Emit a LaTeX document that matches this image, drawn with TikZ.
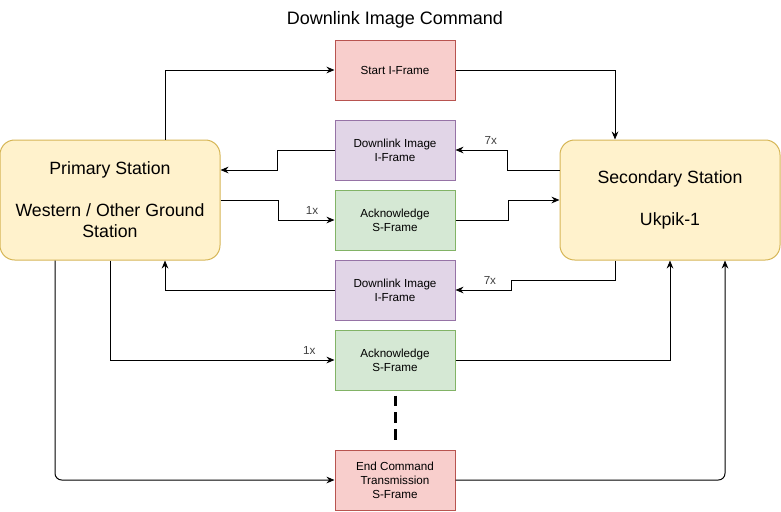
\documentclass[tikz,border=0pt]{standalone}
\usepackage{fontspec}
\setmainfont{Liberation Sans}
\usepackage{xcolor}
\usepackage{tikz}
\usetikzlibrary{arrows.meta}
\usetikzlibrary{calc}
\usetikzlibrary{positioning}

\definecolor{redfill}{HTML}{F8CECC}
\definecolor{redline}{HTML}{B85450}
\definecolor{purplefill}{HTML}{E1D5E7}
\definecolor{purpleline}{HTML}{9673A6}
\definecolor{greenfill}{HTML}{D5E8D4}
\definecolor{greenline}{HTML}{82B366}
\definecolor{yellowfill}{HTML}{FFF2CC}
\definecolor{yellowline}{HTML}{D6B656}

\begin{document}
\begin{tikzpicture}[x=0.75pt, y=-0.75pt,
    station/.style={draw=yellowline, fill=yellowfill, rounded corners=11pt,
      minimum width=165pt, minimum height=90pt, align=center,
      font=\fontsize{13.3}{15.75}\selectfont, line width=0.75pt},
    frame/.style={draw, minimum width=90pt, minimum height=45pt, align=center,
      font=\fontsize{8.75}{10.5}\selectfont, line width=0.75pt},
    iframe/.style={frame, draw=purpleline, fill=purplefill},
    sframe/.style={frame, draw=greenline, fill=greenfill},
    cmdframe/.style={frame, draw=redline, fill=redfill},
    arr/.style={-{Stealth[length=6pt, width=5pt]}, line width=0.75pt},
    lbl/.style={font=\fontsize{8.75}{10}\selectfont, text=black!75}]

    \useasboundingbox (0,0) rectangle (781,511);

    \node[font=\fontsize{13.5}{15}\selectfont] (title) at (395,20) {Downlink Image Command};

    \node[station] (prim) at (110,200)
    {Primary Station\\[15.75pt]Western / Other Ground\\Station};
    \node[station] (sec) at (670,200)
    {Secondary Station\\[15.75pt]Ukpik-1};

    \node[cmdframe] (start) at (395,70) {Start I-Frame};
    \node[iframe] (dlone) at (395,150) {Downlink Image\\I-Frame};
    \node[sframe] (ackone) at (395,220) {Acknowledge\\S-Frame};
    \node[iframe] (dltwo) at (395,290) {Downlink Image\\I-Frame};
    \node[sframe] (acktwo) at (395,360) {Acknowledge\\S-Frame};
    \node[cmdframe] (endf) at (395,480) {End Command\\Transmission\\S-Frame};

    \draw [arr] ($(prim.north)+(55,0)$) |- (start);
    \draw [arr] (start) -| ($(sec.north)+(-55,0)$);

    \draw [arr] ($(sec.west)+(0,-30)$) -- ++(-52,0) |- (dlone)
    node[lbl, pos=0.66, above=0.5pt] {7x};
    \draw [arr] (dlone.west) -- ++(-57,0) |- ($(prim.east)+(0,-30)$);

    \draw [arr] (prim.east) -- ++(58,0) |- (ackone)
    node[lbl, pos=0.8, above=0.5pt] {1x};
    \draw [arr] (ackone.east) -- ++(53,0) |- (sec.west);

    \draw [arr] ($(sec.south)+(-55,0)$) -- ++(0,20) -- ++(-104,0) |- (dltwo)
    node[lbl, pos=0.69, above=0.5pt] {7x};
    \draw [arr] (dltwo) -| ($(prim.south)+(55,0)$);

    \draw [arr] (prim.south) |- (acktwo)
    node[lbl, pos=0.944, above=0.5pt] {1x};
    \draw [arr] (acktwo) -| (sec.south);

    \draw [arr, rounded corners=5pt] ($(prim.south)+(-55,0)$) |- (endf);
    \draw [arr, rounded corners=5pt] (endf) -| ($(sec.south)+(55,0)$);

    \draw [dash pattern=on 8pt off 4.5pt, line width=2.25pt]
    ($(acktwo.south)+(0,5)$) -- ($(endf.north)+(0,-10)$);

  \end{tikzpicture}
\end{document}
